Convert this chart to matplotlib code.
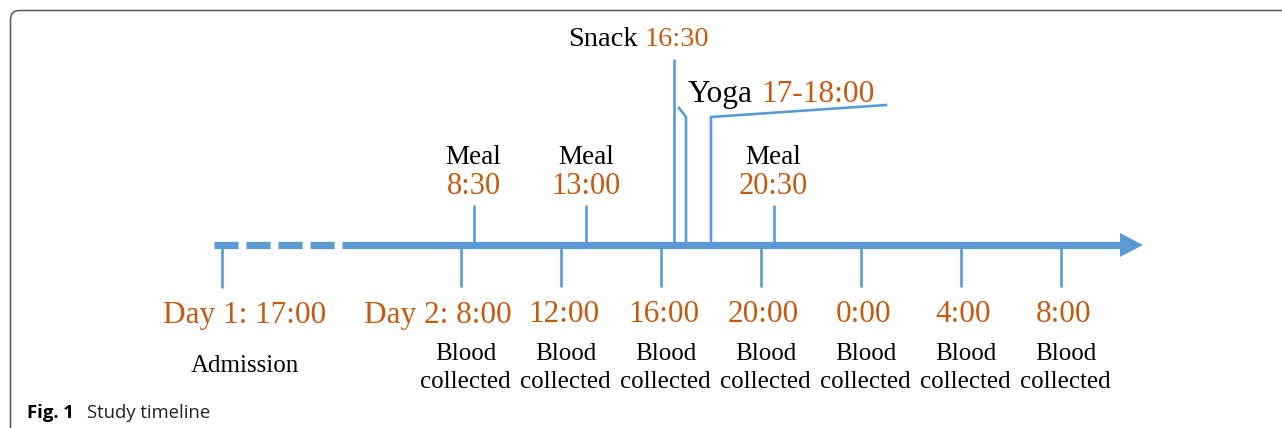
import matplotlib.pyplot as plt
from matplotlib.patches import FancyBboxPatch

plt.rcParams["lines.scale_dashes"] = False

BLUE = "#5B9BD5"
ORANGE = "#C55A11"
SERIF = "Liberation Serif"
SANS = "Open Sans"

# times as hours counted from day 2, 00:00
blood_hours = [8, 12, 16, 20, 24, 28, 32]
blood_labels = ["Day 2: 8:00", "12:00", "16:00", "20:00", "0:00", "4:00", "8:00"]
meal_hours = [8.5, 13, 20.5]
meal_labels = ["8:30", "13:00", "20:30"]
snack_hour = 16.5
snack_label = "16:30"
yoga_hours = [17, 18]
yoga_label = "17-18:00"
admission_label = "Day 1: 17:00"

# layout (x in hours on the broken axis, y in pixels from the top)
ADMISSION_POS = -1.56
DASH_START, DASH_END = -1.88, 3.24
ARROW_BASE, ARROW_TIP = 34.36, 35.28
AXIS_Y = 245

fig = plt.figure(figsize=(12.82, 4.28), dpi=100)

# frame around the figure panel, in pixels
frame = fig.add_axes([0, 0, 1, 1])
frame.set_xlim(0, 1282)
frame.set_ylim(428, 0)
frame.axis("off")
frame.add_patch(FancyBboxPatch((10.5, 10.5), 1320, 460,
                               boxstyle="round,pad=0,rounding_size=9",
                               fill=False, ec="#555555", lw=1.1))

ax = fig.add_axes([0, 0, 1, 1])
ax.set_xlim(-10.44, 40.84)
ax.set_ylim(428, 0)
ax.axis("off")

# time axis: broken (dashed) part, solid part, arrow head
ax.plot([DASH_START, DASH_END], [AXIS_Y, AXIS_Y], color=BLUE, lw=5.2,
        dashes=(17.3, 5.76), dash_capstyle="butt")
ax.plot([DASH_END, ARROW_BASE + 0.05], [AXIS_Y, AXIS_Y], color=BLUE, lw=5.2,
        solid_capstyle="butt")
ax.fill([ARROW_BASE, ARROW_TIP, ARROW_BASE], [AXIS_Y - 12, AXIS_Y, AXIS_Y + 12],
        color=BLUE, lw=0)

# ticks below: admission and blood sampling
ax.vlines([ADMISSION_POS], AXIS_Y, 288, color=BLUE, lw=1.9)
ax.vlines(blood_hours, AXIS_Y, 287, color=BLUE, lw=1.9)

# ticks above: meals, snack, yoga bracket
ax.vlines(meal_hours, 205, AXIS_Y, color=BLUE, lw=1.9)
ax.vlines([snack_hour], 59, AXIS_Y, color=BLUE, lw=1.9)
ax.plot([yoga_hours[0], yoga_hours[0], yoga_hours[0] - 0.28], [AXIS_Y, 117, 108],
        color=BLUE, lw=1.9)
ax.plot([yoga_hours[1], yoga_hours[1], 25.0], [AXIS_Y, 117, 105],
        color=BLUE, lw=1.9)

# labels below the axis
ax.text(ADMISSION_POS + 0.9, 316, admission_label, ha="center", va="center",
        color=ORANGE, size=22.5, family=SERIF)
ax.text(ADMISSION_POS + 0.9, 366, "Admission", ha="center", va="center",
        size=18, family=SERIF)
for i, (h, lab) in enumerate(zip(blood_hours, blood_labels)):
    if i == 0:
        ax.text(h + 2.04, 315, lab, ha="right", va="center", color=ORANGE,
                size=22.5, family=SERIF)
    else:
        ax.text(h + 0.1, 315, lab, ha="center", va="center", color=ORANGE,
                size=22.5, family=SERIF)
    ax.text(h + 0.18, 368, "Blood\ncollected", ha="center", va="center",
            size=18, family=SERIF, linespacing=1.33)

# labels above the axis
for h, lab in zip(meal_hours, meal_labels):
    ax.text(h, 157, "Meal", ha="center", va="center", size=19.5, family=SERIF)
    ax.text(h, 186, lab, ha="center", va="center", color=ORANGE, size=22,
            family=SERIF)

t = ax.text(12.28, 39, "Snack", ha="left", va="center", size=20.5, family=SERIF)
ax.annotate(snack_label, xy=(1, 0.5), xycoords=t, xytext=(5, 0),
            textcoords="offset points", ha="left", va="center", color=ORANGE,
            size=20.5, family=SERIF)
t = ax.text(17.08, 94, "Yoga", ha="left", va="center", size=22.6, family=SERIF)
ax.annotate(yoga_label, xy=(1, 0.5), xycoords=t, xytext=(5.6, 0),
            textcoords="offset points", ha="left", va="center", color=ORANGE,
            size=22.6, family=SERIF)

# caption
t = frame.text(27, 413, "Fig. 1", ha="left", va="center", size=13.3,
               weight="bold", family=SANS)
frame.annotate("Study timeline", xy=(1, 0.5), xycoords=t, xytext=(9.5, 0),
               textcoords="offset points", ha="left", va="center", size=13.3,
               family=SANS, color="#222222")

fig.savefig("out.png", dpi=100)
